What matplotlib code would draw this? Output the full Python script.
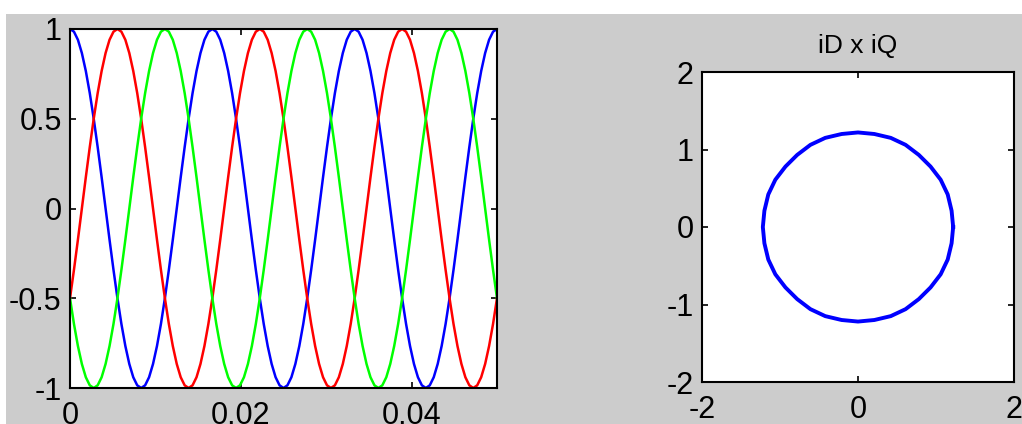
import numpy as np
import matplotlib
matplotlib.use("Agg")
import matplotlib.pyplot as plt
from matplotlib.patches import Rectangle

ia_period = [1, 0.985, 0.940, 0.866, 0.766, 0.643, 0.5, 0.342, 0.174, 0,
             -0.174, -0.342, -0.5, -0.643, -0.766, -0.866, -0.940, -0.985,
             -1, -0.985, -0.940, -0.866, -0.766, -0.643, -0.5, -0.342, -0.174,
             0, 0.174, 0.342, 0.5, 0.643, 0.766, 0.866, 0.940, 0.985]
ib_period = [-0.5, -0.342, -0.174, 0, 0.174, 0.342, 0.5, 0.643, 0.766, 0.866,
             0.940, 0.985, 1, 0.985, 0.940, 0.866, 0.766, 0.643, 0.5, 0.342,
             0.174, 0, -0.174, -0.342, -0.5, -0.643, -0.766, -0.866, -0.940,
             -0.985, -1, -0.985, -0.940, -0.866, -0.766, -0.643]
ic_period = [-0.5, -0.643, -0.766, -0.866, -0.940, -0.985, -1, -0.985, -0.940,
             -0.866, -0.766, -0.643, -0.5, -0.342, -0.174, 0, 0.174, 0.342,
             0.5, 0.643, 0.766, 0.866, 0.940, 0.985, 1, 0.985, 0.940, 0.866,
             0.766, 0.643, 0.5, 0.342, 0.174, 0, -0.174, -0.342]
n_periods = 3
t_end = 0.05

# iD x iQ locus
iD = [1.22, 1.20, 1.15, 1.06, 0.93, 0.78, 0.61, 0.42, 0.21, 0,
      -0.21, -0.42, -0.61, -0.78, -0.93, -1.06, -1.15, -1.20, -1.22,
      -1.20, -1.15, -1.06, -0.93, -0.78, -0.61, -0.42, -0.21, 0,
      0.21, 0.42, 0.61, 0.78, 0.93, 1.06, 1.15, 1.20, 1.22]
iQ = [0, 0.21, 0.42, 0.61, 0.78, 0.93, 1.06, 1.15, 1.20, 1.22,
      1.20, 1.15, 1.06, 0.93, 0.78, 0.61, 0.42, 0.21, 0,
      -0.21, -0.42, -0.61, -0.78, -0.93, -1.06, -1.15, -1.20, -1.22,
      -1.20, -1.15, -1.06, -0.93, -0.78, -0.61, -0.42, -0.21, 0]

ia = ia_period * n_periods + ia_period[:1]
ib = ib_period * n_periods + ib_period[:1]
ic = ic_period * n_periods + ic_period[:1]
t = np.linspace(0, t_end, len(ia))

plt.rcParams['font.family'] = ['Liberation Sans', 'DejaVu Sans']
plt.rcParams['axes.unicode_minus'] = False

W, H = 1022, 424
fig = plt.figure(figsize=(W / 100, H / 100), dpi=100, facecolor='white')
fig.patches.append(Rectangle((6 / W, 0), 1 - 6 / W, (H - 14) / H,
                             transform=fig.transFigure, facecolor='#cccccc',
                             edgecolor='none', zorder=-10))

def px_axes(x0, y0, x1, y1):
    return fig.add_axes([x0 / W, 1 - y1 / H, (x1 - x0) / W, (y1 - y0) / H])

ax1 = px_axes(70, 29, 497, 388)
ax1.plot(t, ia, color='#0000ff', lw=1.8)
ax1.plot(t, ib, color='#ff0000', lw=1.8)
ax1.plot(t, ic, color='#00ff00', lw=1.8)
ax1.set_xlim(0, t_end)
ax1.set_ylim(-1, 1)
ax1.set_xticks([0, 0.02, 0.04])
ax1.set_xticklabels(['0', '0.02', '0.04'])
ax1.set_yticks([-1, -0.5, 0, 0.5, 1])
ax1.set_yticklabels(['-1', '-0.5', '0', '0.5', '1'])

ax2 = px_axes(702, 72, 1014, 382)
ax2.plot(iD, iQ, color='#0000ff', lw=2.8)
ax2.set_xlim(-2, 2)
ax2.set_ylim(-2, 2)
ax2.set_xticks([-2, 0, 2])
ax2.set_yticks([-2, -1, 0, 1, 2])
ax2.set_title('iD x iQ', fontsize=19, pad=14)

for ax in (ax1, ax2):
    ax.set_facecolor('white')
    for s in ax.spines.values():
        s.set_linewidth(1.5)
        s.set_color('black')
    ax.tick_params(direction='in', length=4, width=1.2, top=True, right=True,
                   labelsize=22)
    ax.tick_params(axis='x', pad=9)
    ax.tick_params(axis='y', pad=6)

fig.savefig('out.png', dpi=100, facecolor=fig.get_facecolor())
